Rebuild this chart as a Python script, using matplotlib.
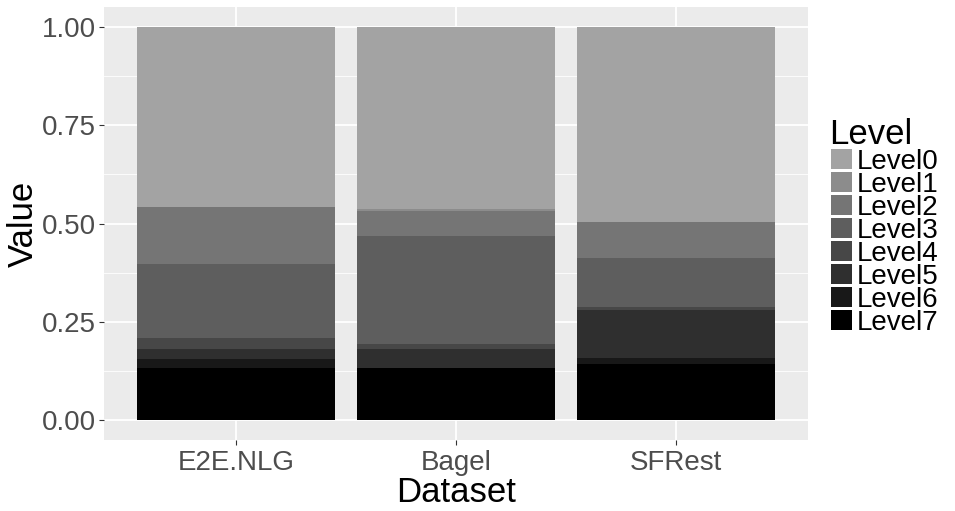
import numpy as np
import matplotlib
matplotlib.use("Agg")
import matplotlib.pyplot as plt
from matplotlib.patches import Rectangle

datasets = ["E2E.NLG", "Bagel", "SFRest"]
levels = ["Level0", "Level1", "Level2", "Level3", "Level4", "Level5", "Level6", "Level7"]
level0 = [0.457, 0.462, 0.496]
level1 = [0.000, 0.005, 0.000]
level2 = [0.145, 0.066, 0.092]
level3 = [0.188, 0.272, 0.125]
level4 = [0.028, 0.015, 0.008]
level5 = [0.025, 0.046, 0.120]
level6 = [0.023, 0.000, 0.015]
level7 = [0.134, 0.134, 0.144]
values = [level0, level1, level2, level3, level4, level5, level6, level7]
colors = ["#a3a3a3", "#8c8c8c", "#757575", "#5e5e5e", "#474747", "#2f2f2f", "#181818", "#000000"]

plt.rcParams["font.family"] = ["Liberation Sans", "DejaVu Sans"]

W, H = 955, 511
fig = plt.figure(figsize=(W / 100, H / 100), dpi=100)
ax = fig.add_axes([104 / W, (H - 440) / H, (808 - 104) / W, (440 - 7) / H])
ax.set_facecolor("#ebebeb")

x = np.arange(len(datasets))
# stack from the bottom: Level7 first
bottom = np.zeros(len(datasets))
for lev, col in zip(values[::-1], colors[::-1]):
    ax.bar(x, lev, width=0.9, bottom=bottom, color=col, linewidth=0, zorder=3)
    bottom += np.array(lev)

ax.set_xlim(-0.6, 2.6)
ax.set_ylim(-0.05, 1.05)
ax.set_yticks([0, 0.25, 0.5, 0.75, 1.0])
ax.set_yticklabels(["0.00", "0.25", "0.50", "0.75", "1.00"])
ax.set_yticks([0.125, 0.375, 0.625, 0.875], minor=True)
ax.set_xticks(x)
ax.set_xticklabels(datasets)
ax.grid(which="major", color="white", linewidth=1.3, zorder=0)
ax.grid(which="minor", axis="y", color="white", linewidth=0.6, zorder=0)
ax.set_axisbelow(True)
for s in ax.spines.values():
    s.set_visible(False)
ax.tick_params(which="major", length=3.5, width=0.8, color="#333333",
               labelcolor="#4d4d4d", labelsize=20, pad=2)
ax.tick_params(axis="x", pad=4)
ax.tick_params(which="minor", length=0)

ax.set_xlabel("Dataset", fontsize=25, labelpad=0)
ax.set_ylabel("Value", fontsize=25, labelpad=2)

# legend
fig.text(829 / W, 1 - 144 / H, "Level", fontsize=25, va="baseline", ha="left")
for i, (name, col) in enumerate(zip(levels, colors)):
    top = 149 + 23 * i
    fig.patches.append(Rectangle((831 / W, 1 - (top + 20) / H), 21 / W, 20 / H,
                                 transform=fig.transFigure, color=col, linewidth=0))
    fig.text(857 / W, 1 - (top + 20) / H, name, fontsize=20, va="baseline", ha="left")

fig.savefig("out.png", dpi=100)
